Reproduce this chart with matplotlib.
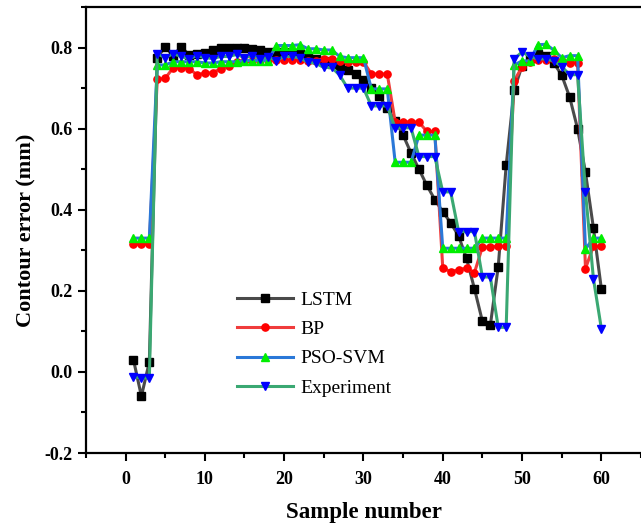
"""
Contour error comparison plot
=============================
Predicted contour error of LSTM, BP and PSO-SVM models against the experiment.
"""

import numpy as np
import matplotlib
matplotlib.use("Agg")
import matplotlib.pyplot as plt
from matplotlib.ticker import MultipleLocator

# Sample numbers 1..60
samples = np.arange(1, 61)

lstm = [0.03, -0.06, 0.025, 0.775, 0.802, 0.78, 0.802, 0.782, 0.785, 0.786,
        0.794, 0.798, 0.80, 0.80, 0.798, 0.797, 0.794, 0.79, 0.79, 0.79,
        0.787, 0.783, 0.778, 0.772, 0.766, 0.76, 0.753, 0.745, 0.735, 0.72,
        0.70, 0.68, 0.65, 0.62, 0.584, 0.54, 0.50, 0.46, 0.425, 0.395,
        0.368, 0.335, 0.28, 0.205, 0.125, 0.115, 0.26, 0.51, 0.695, 0.755,
        0.775, 0.783, 0.779, 0.762, 0.732, 0.678, 0.60, 0.492, 0.355, 0.205]

bp = [0.315, 0.315, 0.315, 0.722, 0.724, 0.75, 0.75, 0.748, 0.733, 0.737,
      0.738, 0.748, 0.755, 0.765, 0.768, 0.768, 0.77, 0.77, 0.77, 0.77,
      0.77, 0.77, 0.768, 0.768, 0.772, 0.772, 0.768, 0.765, 0.765, 0.765,
      0.735, 0.735, 0.735, 0.617, 0.617, 0.617, 0.616, 0.593, 0.593, 0.257,
      0.247, 0.252, 0.256, 0.245, 0.308, 0.308, 0.31, 0.31, 0.718, 0.752,
      0.765, 0.77, 0.77, 0.772, 0.768, 0.763, 0.763, 0.255, 0.31, 0.31]

pso_svm = [0.33, 0.33, 0.33, 0.757, 0.757, 0.765, 0.765, 0.765, 0.765, 0.762,
           0.762, 0.765, 0.765, 0.765, 0.768, 0.768, 0.768, 0.768, 0.805, 0.805,
           0.805, 0.807, 0.797, 0.797, 0.794, 0.794, 0.778, 0.775, 0.775, 0.775,
           0.698, 0.698, 0.698, 0.517, 0.517, 0.517, 0.584, 0.584, 0.584, 0.305,
           0.305, 0.305, 0.305, 0.305, 0.33, 0.33, 0.33, 0.33, 0.757, 0.767,
           0.767, 0.807, 0.808, 0.794, 0.775, 0.78, 0.78, 0.303, 0.33, 0.33]

experiment = [-0.012, -0.015, -0.015, 0.785, 0.775, 0.785, 0.778, 0.772, 0.78, 0.775,
              0.773, 0.778, 0.778, 0.783, 0.775, 0.78, 0.773, 0.777, 0.768, 0.778,
              0.778, 0.774, 0.764, 0.761, 0.751, 0.751, 0.732, 0.70, 0.70, 0.70,
              0.656, 0.656, 0.656, 0.602, 0.602, 0.602, 0.531, 0.531, 0.531, 0.444,
              0.444, 0.346, 0.346, 0.346, 0.234, 0.234, 0.11, 0.11, 0.772, 0.789,
              0.778, 0.772, 0.772, 0.767, 0.753, 0.733, 0.733, 0.443, 0.23, 0.107]

labels = ["LSTM", "BP", "PSO-SVM", "Experiment"]


def make_plot(output_path="out.png"):
    plt.rcParams["font.family"] = ["Liberation Serif", "DejaVu Serif"]

    fig = plt.figure(figsize=(6.41, 5.27), dpi=100)
    ax = fig.add_axes([0.134, 0.1404, 0.866, 0.8463])

    # (line colour, marker, marker colour) for each series
    styles = [
        ("#4a4a4a", "s", "black"),
        ("#f03c3c", "o", "red"),
        ("#2a78d8", "^", "#00ee00"),
        ("#3aa872", "v", "blue"),
    ]
    series = [lstm, bp, pso_svm, experiment]

    for values, label, (lc, mk, mc) in zip(series, labels, styles):
        ax.plot(samples, values, color=lc, linewidth=2.2, marker=mk,
                markersize=5.2, markerfacecolor=mc, markeredgecolor=mc,
                label=label)

    ax.set_xlim(-5, 65)
    ax.set_ylim(-0.2, 0.9)
    ax.xaxis.set_major_locator(MultipleLocator(10))
    ax.xaxis.set_minor_locator(MultipleLocator(5))
    ax.yaxis.set_major_locator(MultipleLocator(0.2))
    ax.yaxis.set_minor_locator(MultipleLocator(0.1))
    ax.set_xticks([0, 10, 20, 30, 40, 50, 60])
    ax.yaxis.set_major_formatter(plt.FuncFormatter(lambda v, _: f"{v:.1f}"))

    ax.tick_params(which="major", direction="out", length=6, width=1.5,
                   labelsize=13)
    ax.tick_params(axis="x", which="major", pad=7)
    ax.tick_params(which="minor", direction="out", length=3.5, width=1.5)
    for lab in ax.get_xticklabels() + ax.get_yticklabels():
        lab.set_fontweight("bold")

    for side in ["left", "bottom", "top"]:
        ax.spines[side].set_linewidth(1.6)
    ax.spines["right"].set_visible(False)

    ax.set_xlabel("Sample number", fontsize=16.5, fontweight="bold", labelpad=10)
    ax.set_ylabel("Contour error (mm)", fontsize=16, fontweight="bold",
                  labelpad=6)

    ax.legend(loc="upper left", bbox_to_anchor=(0.24, 0.402), frameon=False,
              fontsize=14, handlelength=2.9, labelspacing=0.6,
              handletextpad=0.4)

    fig.savefig(output_path, dpi=100)


if __name__ == "__main__":
    make_plot()
